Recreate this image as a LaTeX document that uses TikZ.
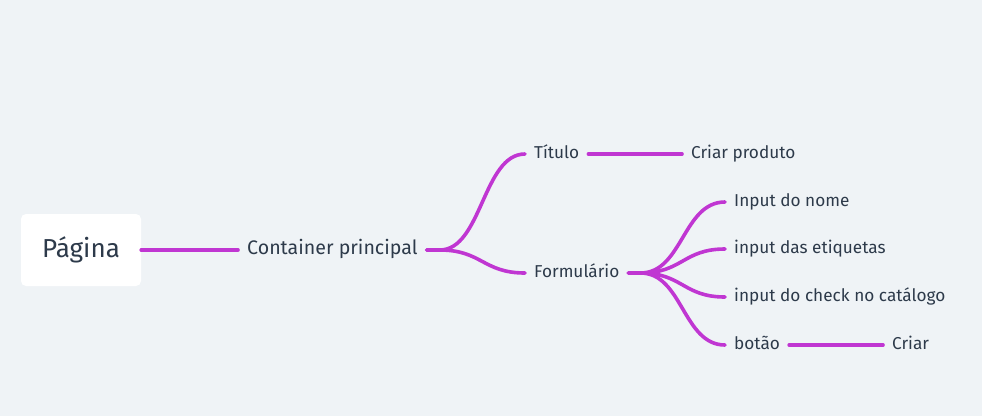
\documentclass[tikz,border=0pt]{standalone}
\usepackage{fontspec}
\setmainfont{Fira Sans}
\usepackage{xcolor}
\definecolor{bgcol}{HTML}{EFF3F6}
\definecolor{linkcol}{HTML}{C036D2}
\definecolor{textcol}{HTML}{2D3A4A}

\begin{document}
\begin{tikzpicture}[x=1pt,y=-1pt,
	leaf/.style={anchor=west,text=textcol,inner xsep=9pt,inner ysep=0pt,text height=0.9em,text depth=0pt,font=\fontsize{17.2}{20}\selectfont},
	link/.style={linkcol,line width=3.6pt,line cap=round}]
	\fill[bgcol] (0,0) rectangle (982,416);
	\useasboundingbox (0,0) rectangle (982,416);
	% nodes
	\path (81,250) node(pag)[fill=white,rounded corners=5pt,minimum width=120pt,minimum height=72pt,text=textcol,font=\fontsize{26}{30}\selectfont] {Página}
	(238,250) node(cont)[leaf,font=\fontsize{19.6}{23}\selectfont] {Container principal}
	(525,154) node(tit)[leaf] {Título}
	(682,154) node(crp)[leaf] {Criar produto}
	(525,273) node(form)[leaf] {Formulário}
	(725,202) node(nome)[leaf] {Input do nome}
	(725,249) node(etiq)[leaf] {input das etiquetas}
	(725,297) node(check)[leaf] {input do check no catálogo}
	(725,345) node(bot)[leaf] {botão}
	(883,345) node(criar)[leaf] {Criar};
	% links
	\draw[link] (pag.east) -- (cont.west);
	\draw[link] (cont.east) -- ++(13,0) .. controls +(42,0) and +(-42,0) .. (tit.west);
	\draw[link] (cont.east) -- ++(13,0) .. controls +(42,0) and +(-42,0) .. (form.west);
	\draw[link] (tit.east) -- (crp.west);
	\draw[link] (form.east) -- ++(12,0) .. controls +(42,0) and +(-42,0) .. (nome.west);
	\draw[link] (form.east) -- ++(12,0) .. controls +(42,0) and +(-42,0) .. (etiq.west);
	\draw[link] (form.east) -- ++(12,0) .. controls +(42,0) and +(-42,0) .. (check.west);
	\draw[link] (form.east) -- ++(12,0) .. controls +(42,0) and +(-42,0) .. (bot.west);
	\draw[link] (bot.east) -- (criar.west);
\end{tikzpicture}
\end{document}
